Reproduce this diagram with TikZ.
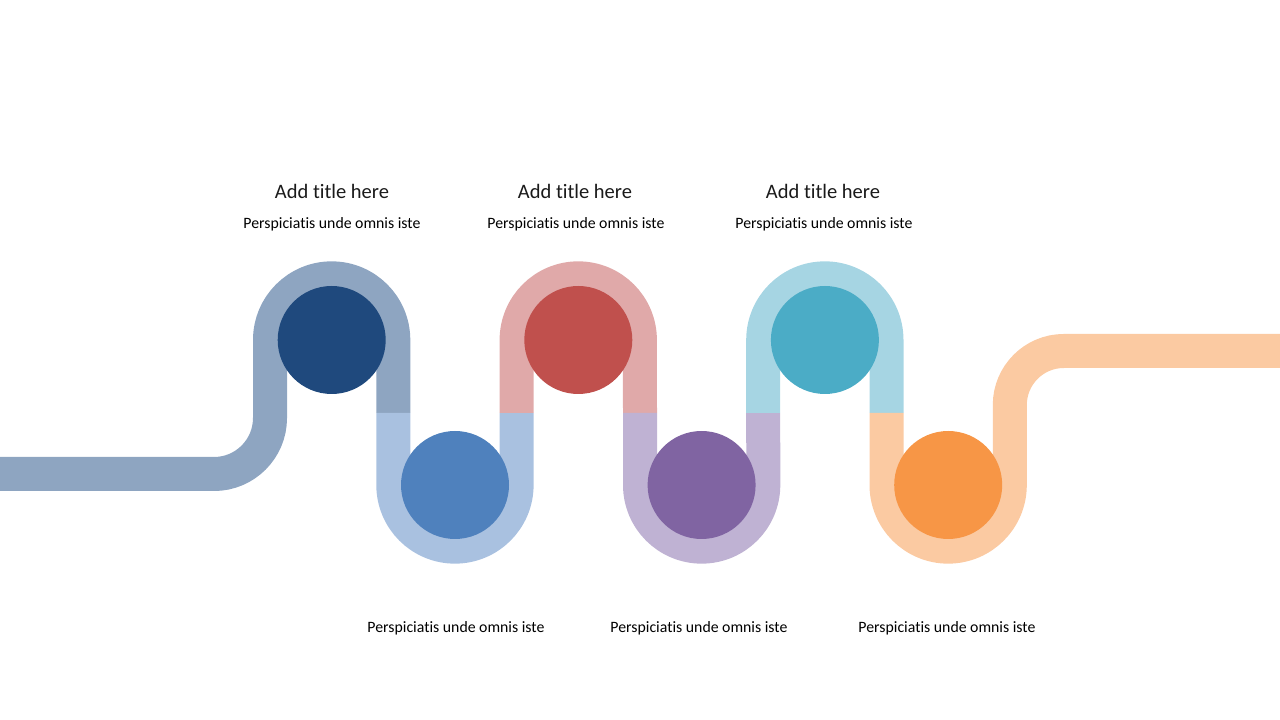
\documentclass[tikz,border=0pt]{standalone}
\usepackage{fontspec}
\setmainfont[Ligatures={NoCommon,NoContextual}]{Carlito}
\definecolor{bandA}{HTML}{8EA5C1}
\definecolor{bandB}{HTML}{A9C1E0}
\definecolor{bandC}{HTML}{E0A9A9}
\definecolor{bandD}{HTML}{BFB2D3}
\definecolor{bandE}{HTML}{A6D5E3}
\definecolor{bandF}{HTML}{FBCAA2}
\definecolor{dotA}{HTML}{1F497D}
\definecolor{dotB}{HTML}{4F81BD}
\definecolor{dotC}{HTML}{C0504D}
\definecolor{dotD}{HTML}{8064A2}
\definecolor{dotE}{HTML}{4BACC6}
\definecolor{dotF}{HTML}{F79646}
\definecolor{txt}{HTML}{1A1A1A}
\begin{document}
\begin{tikzpicture}[x=1pt,y=1pt,
  band/.style={line width=34pt,line cap=butt,line join=miter},
  dot/.style={circle,minimum size=108pt,inner sep=0pt,draw=none},
  ttl/.style={font=\fontsize{20.5}{22}\selectfont,text=txt},
  sub/.style={font=\fontsize{15.8}{17}\selectfont,text=black}]
\useasboundingbox (0,0) rectangle (1280,720);
\def\R{61.65}
% column coordinates
\coordinate (c0) at (270,307);
\coordinate (c1) at (393.3,307);
\coordinate (c2) at (516.6,307);
\coordinate (c3) at (640,307);
\coordinate (c4) at (763.2,307);
\coordinate (c5) at (886.5,307);
\coordinate (c6) at (1009.8,307);
% bands
\draw[band,bandA] (0,246) -- (214,246) arc[start angle=-90,end angle=0,radius=56] -- (270,380) arc[start angle=180,end angle=0,radius=\R] -- (c1);
\draw[band,bandB] (c1) -- (393.3,235) arc[start angle=180,end angle=360,radius=\R] -- (c2);
\draw[band,bandC] (c2) -- (516.6,380) arc[start angle=180,end angle=0,radius=\R] -- (c3);
\draw[band,bandD] (c3) -- (640,235) arc[start angle=180,end angle=360,radius=\R] -- (c4);
\draw[band,bandE] (c4) -- (763.2,380) arc[start angle=180,end angle=0,radius=\R] -- (c5);
\draw[band,bandF] (c5) -- (886.5,235) arc[start angle=180,end angle=360,radius=\R] -- (1009.8,315) arc[start angle=180,end angle=90,radius=54] -- (1280,369);
% circles
\node[dot,fill=dotA] (d1) at (331.7,380) {};
\node[dot,fill=dotB] (d2) at (455,235) {};
\node[dot,fill=dotC] (d3) at (578.3,380) {};
\node[dot,fill=dotD] (d4) at (701.6,235) {};
\node[dot,fill=dotE] (d5) at (824.9,380) {};
\node[dot,fill=dotF] (d6) at (948.2,235) {};
% texts
\node[ttl] (t1) at (332,529) {Add title here};
\node[ttl] (t3) at (575,529) {Add title here};
\node[ttl] (t5) at (823,529) {Add title here};
\node[sub] (s1) at (332,496) {Perspiciatis unde omnis iste};
\node[sub] (s3) at (576,496) {Perspiciatis unde omnis iste};
\node[sub] (s5) at (824,496) {Perspiciatis unde omnis iste};
\node[sub] (s2) at (456,92) {Perspiciatis unde omnis iste};
\node[sub] (s4) at (699,92) {Perspiciatis unde omnis iste};
\node[sub] (s6) at (947,92) {Perspiciatis unde omnis iste};
\end{tikzpicture}
\end{document}
